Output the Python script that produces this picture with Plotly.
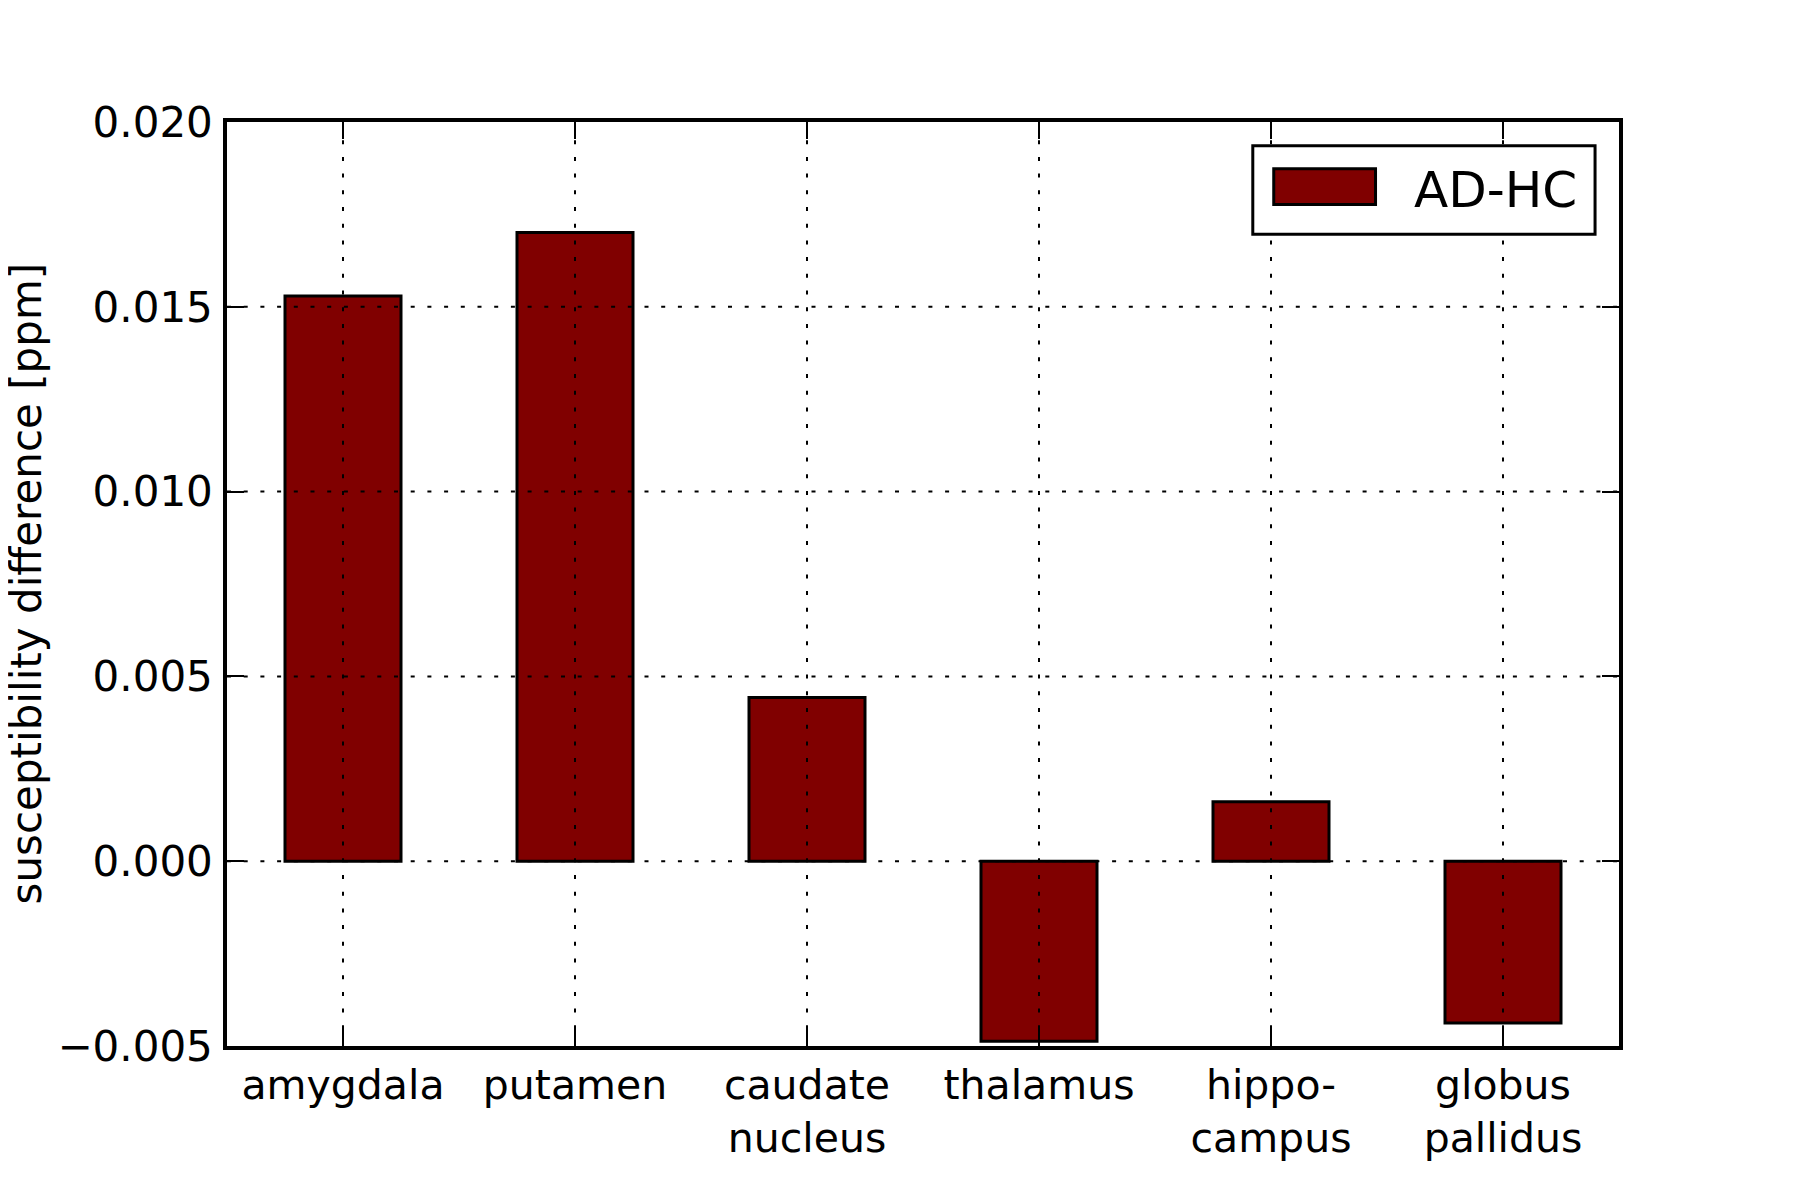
import plotly.graph_objects as go

categories = ["amygdala", "putamen", "caudate<br>nucleus", "thalamus", "hippo-<br>campus", "globus<br>pallidus"]
values = [0.01529, 0.01701, 0.00443, -0.00487, 0.00161, -0.00438]
series_name = "AD-HC"
y_tickvals = [-0.005, 0.000, 0.005, 0.010, 0.015, 0.020]
y_ticktext = ["\u22120.005", "0.000", "0.005", "0.010", "0.015", "0.020"]
y_range = [-0.005, 0.020]

FONT = "DejaVu Sans"
BAR_COLOR = "#800000"

fig = go.Figure()
fig.add_trace(go.Bar(
    x=list(range(len(categories))), y=values, name=series_name, width=0.5,
    marker=dict(color=BAR_COLOR, line=dict(color="black", width=3)),
    showlegend=False,
))

# dotted grid drawn above bars (as matplotlib does here)
shapes = []
for i in range(len(categories)):
    shapes.append(dict(type="line", xref="x", yref="y", x0=i, x1=i, y0=y_range[0], y1=y_range[1],
                       line=dict(color="black", width=2, dash="4px,12.7px"), layer="above"))
for v in y_tickvals[1:-1]:
    shapes.append(dict(type="line", xref="paper", yref="y", x0=0, x1=1, y0=v, y1=v,
                       line=dict(color="black", width=2, dash="4px,12.7px"), layer="above"))

# legend box (matplotlib-style), positioned relative to the plot area
px_l, px_r, px_t, px_b = 225, 1620, 120, 1050
W, H = px_r - px_l, px_b - px_t
def fx(p): return (p - px_l) / W
def fy(p): return (px_b - p) / H
shapes.append(dict(type="rect", xref="paper", yref="paper", x0=fx(1253), x1=fx(1596), y0=fy(233), y1=fy(144),
                   line=dict(color="black", width=3), fillcolor="white", layer="above"))
shapes.append(dict(type="rect", xref="paper", yref="paper", x0=fx(1274), x1=fx(1376), y0=fy(203), y1=fy(167),
                   line=dict(color="black", width=3), fillcolor=BAR_COLOR, layer="above"))

annotations = [
    dict(text=series_name, xref="paper", yref="paper", x=fx(1413), y=fy(188), xanchor="left", yanchor="middle",
         showarrow=False, font=dict(family=FONT, size=50, color="black")),
    dict(text="susceptibility difference [ppm]", xref="paper", yref="paper", x=fx(24), y=fy(584),
         xanchor="center", yanchor="middle", textangle=-90, showarrow=False,
         font=dict(family=FONT, size=42, color="black")),
]

# compensate for the page offset of the rendered figure
OFF = 6
fig.update_layout(
    width=1800, height=1200,
    margin=dict(l=225 - OFF, r=183 + OFF, t=120 - OFF, b=156 + OFF, pad=0),
    paper_bgcolor="white", plot_bgcolor="white",
    font=dict(family=FONT, size=42, color="black"),
    shapes=shapes, annotations=annotations,
    bargap=0.5,
)
fig.update_xaxes(
    range=[-0.5, len(categories) - 0.5],
    tickvals=list(range(len(categories))), ticktext=categories,
    showgrid=False, zeroline=False,
    showline=True, linecolor="black", linewidth=3.5, mirror="ticks",
    ticks="inside", ticklen=17, tickwidth=2, tickcolor="black",
    tickfont=dict(family=FONT, size=41, color="black"),
)
fig.update_yaxes(
    range=y_range, tickvals=y_tickvals, ticktext=y_ticktext,
    showgrid=False, zeroline=False,
    showline=True, linecolor="black", linewidth=3.5, mirror="ticks",
    ticks="inside", ticklen=17, tickwidth=2, tickcolor="black",
    tickfont=dict(family=FONT, size=42, color="black"),
    ticklabelstandoff=2,
)

fig.write_html("out.html")
